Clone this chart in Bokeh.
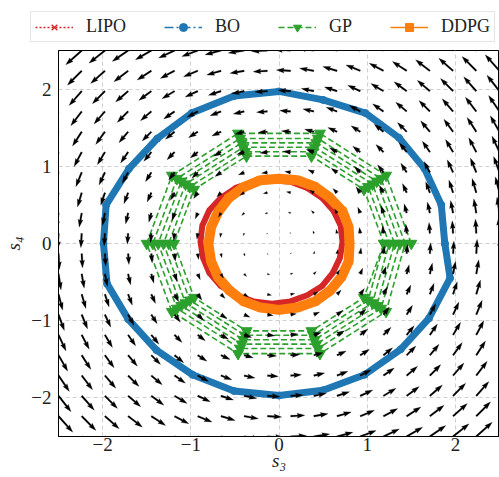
import numpy as np
from bokeh.plotting import figure
from bokeh.layouts import column
from bokeh.models import Legend, LegendItem, FixedTicker
from bokeh.embed import file_html
from bokeh.resources import INLINE

# ---------------- axis / ticks ----------------
x_lim = (-2.5, 2.5)
y_lim = (-2.5, 2.5)
tick_values = [-2, -1, 0, 1, 2]
tick_labels = ["\u22122", "\u22121", "0", "1", "2"]
x_label = "s\u2083"
y_label = "s\u2084"

# ---------------- vector field (s3' = -s4, s4' = s3) ----------------
field_n = 20
field_px_per_speed = 6.4

# ---------------- trajectories ----------------
series_names = ["LIPO", "BO", "GP", "DDPG"]
series_colors = ["#d62728", "#1f77b4", "#2ca02c", "#ff7f0e"]

lipo_x = [0.72, 0.70, 0.62, 0.49, 0.32, 0.13, -0.08, -0.29, -0.49, -0.66, -0.79, -0.87,
          -0.89, -0.86, -0.79, -0.66, -0.48, -0.29, -0.08, 0.13, 0.32, 0.49, 0.61, 0.69, 0.72]
lipo_y = [0.02, 0.23, 0.42, 0.59, 0.72, 0.80, 0.82, 0.80, 0.72, 0.59, 0.43, 0.23,
          0.02, -0.19, -0.38, -0.55, -0.67, -0.75, -0.78, -0.75, -0.67, -0.55, -0.38, -0.19, 0.02]

bo_x = [1.88, 1.84, 1.65, 1.36, 0.98, 0.50, 0.00, -0.51, -0.99, -1.38, -1.70, -1.96,
        -1.99, -1.95, -1.71, -1.39, -0.98, -0.51, 0.00, 0.50, 0.97, 1.38, 1.70, 1.94, 1.88]
bo_y = [0.00, 0.50, 0.97, 1.37, 1.69, 1.86, 1.97, 1.91, 1.69, 1.36, 0.97, 0.50,
        0.00, -0.52, -0.98, -1.38, -1.70, -1.91, -1.97, -1.90, -1.70, -1.37, -0.97, -0.45, 0.00]

gp_x = [1.50, 1.214, 0.464, -0.464, -1.214, -1.50, -1.214, -0.464, 0.464, 1.214,
        1.43, 1.157, 0.442, -0.442, -1.157, -1.43, -1.157, -0.442, 0.442, 1.157,
        1.37, 1.108, 0.423, -0.423, -1.108, -1.37, -1.108, -0.423, 0.423, 1.108,
        1.31, 1.060, 0.405, -0.405, -1.060, -1.31, -1.060, -0.405, 0.405, 1.060,
        1.25, 1.011, 0.386, -0.386, -1.011, -1.25, -1.011, -0.386, 0.386, 1.011,
        1.19, 0.963, 0.368, -0.368, -0.963, -1.19, -0.963, -0.368, 0.368, 0.963, 1.19]
gp_y = [0.0, 0.882, 1.427, 1.427, 0.882, 0.0, -0.882, -1.427, -1.427, -0.882,
        0.0, 0.841, 1.360, 1.360, 0.841, 0.0, -0.841, -1.360, -1.360, -0.841,
        0.0, 0.806, 1.303, 1.303, 0.806, 0.0, -0.806, -1.303, -1.303, -0.806,
        0.0, 0.770, 1.246, 1.246, 0.770, 0.0, -0.770, -1.246, -1.246, -0.770,
        0.0, 0.735, 1.189, 1.189, 0.735, 0.0, -0.735, -1.189, -1.189, -0.735,
        0.0, 0.700, 1.132, 1.132, 0.700, 0.0, -0.700, -1.132, -1.132, -0.700, 0.0]

ddpg_x = [0.80, 0.79, 0.72, 0.57, 0.40, 0.21, 0.00, -0.21, -0.40, -0.57, -0.69, -0.77,
          -0.80, -0.77, -0.69, -0.56, -0.40, -0.21, 0.00, 0.21, 0.41, 0.58, 0.71, 0.79, 0.80]
ddpg_y = [-0.01, 0.21, 0.42, 0.60, 0.74, 0.82, 0.84, 0.82, 0.73, 0.59, 0.41, 0.21,
          -0.01, -0.23, -0.44, -0.61, -0.75, -0.83, -0.86, -0.83, -0.75, -0.61, -0.43, -0.23, -0.01]

# ---------------- sizes ----------------
W, H_TOTAL = 499, 477
LEG_H = 44
H = H_TOTAL - LEG_H
BL, BR, BT, BB = 57, 0, 6, 41
FW, FH = W - BL - BR, H - BT - BB

red, blue, green, orange = series_colors

# ---------------- main figure ----------------
p = figure(width=W, height=H, x_range=x_lim, y_range=y_lim,
           output_backend="svg", toolbar_location=None,
           min_border_left=BL, min_border_right=BR,
           min_border_top=BT, min_border_bottom=BB)
p.frame_align = False
p.outline_line_color = "black"
p.outline_line_width = 1
p.outline_line_alpha = 1

for ax in (p.xaxis[0], p.yaxis[0]):
    ax.ticker = FixedTicker(ticks=tick_values)
    ax.major_label_overrides = dict(zip(tick_values, tick_labels))
    ax.minor_tick_line_color = None
    ax.major_tick_out = 0
    ax.major_tick_in = 0
    ax.axis_line_color = "black"
    ax.major_label_text_font = "Liberation Serif"
    ax.major_label_text_font_size = "19px"
    ax.major_label_text_color = "#222222"
    ax.axis_label_text_font = "Liberation Serif"
    ax.axis_label_text_font_size = "19px"
    ax.axis_label_text_font_style = "italic"
    ax.axis_label_text_color = "#222222"
p.xaxis.axis_label = x_label
p.yaxis.axis_label = y_label
p.xaxis.major_label_standoff = 1
p.xaxis.axis_label_standoff = -4
p.yaxis.major_label_standoff = 7
p.yaxis.axis_label_standoff = 4

for g in (p.xgrid[0], p.ygrid[0]):
    g.ticker = FixedTicker(ticks=tick_values)
    g.grid_line_color = "#cfcfcf"
    g.grid_line_dash = "4 3"
    g.grid_line_width = 1

# LIPO
p.line(lipo_x, lipo_y, line_width=6, color=red, line_join="round")
p.line(lipo_x, lipo_y, line_width=1.5, color=red, line_dash="2 2")
p.scatter(lipo_x, lipo_y, marker="x", size=6, line_color=red, line_width=1.3)

# BO
p.line(bo_x, bo_y, line_width=7, color=blue, line_join="round")
p.line(bo_x, bo_y, line_width=1.5, color=blue, line_dash="9 3 2 3")
p.scatter(bo_x, bo_y, marker="circle", size=7, color=blue)

# GP
p.line(gp_x, gp_y, line_width=1.6, color=green, line_dash="6 3")
p.scatter(gp_x, gp_y, marker="inverted_triangle", size=11, color=green)

# DDPG
p.line(ddpg_x, ddpg_y, line_width=10, color=orange, line_join="round")
p.line(ddpg_x, ddpg_y, line_width=1.5, color=orange)
p.scatter(ddpg_x, ddpg_y, marker="square", size=7, color=orange)

# ---------------- quiver ----------------
g = np.linspace(x_lim[0], x_lim[1], field_n)
GX, GY = np.meshgrid(g, g)
U = -GY
V = GX
sx = FW / (x_lim[1] - x_lim[0])
sy = FH / (y_lim[1] - y_lim[0])
sw, hw, hl, hal = 1.7, 5.0, 7.8, 7.0
qx, qy = [], []
for x0, y0, u, v in zip(GX.ravel(), GY.ravel(), U.ravel(), V.ravel()):
    L = float(np.hypot(u, v)) * field_px_per_speed
    if L <= 0:
        continue
    L0 = max(L, hl)
    pts = np.array([[0, -sw / 2], [L0 - hal, -sw / 2], [L0 - hl, -hw / 2], [L0, 0],
                    [L0 - hl, hw / 2], [L0 - hal, sw / 2], [0, sw / 2]], dtype=float)
    if L < hl:
        pts *= L / hl
    th = np.arctan2(v, u)
    c, s = np.cos(th), np.sin(th)
    px = pts[:, 0] * c - pts[:, 1] * s
    py = pts[:, 0] * s + pts[:, 1] * c
    qx.append(list(x0 + px / sx))
    qy.append(list(y0 + py / sy))
p.patches(qx, qy, fill_color="black", line_color="black", line_width=0.2)

# ---------------- legend strip (own small figure, glyphs out of view) ----------------
lf = figure(width=W, height=LEG_H, x_range=(100, 101), y_range=(100, 101),
            output_backend="svg", toolbar_location=None,
            x_axis_location=None, y_axis_location=None,
            min_border_left=0, min_border_right=0, min_border_top=0, min_border_bottom=0)
lf.frame_align = False
lf.outline_line_color = None
lf.xgrid.visible = False
lf.ygrid.visible = False

l1 = lf.line(lipo_x, lipo_y, line_width=1.5, color=red, line_dash="2 2")
m1 = lf.scatter(lipo_x, lipo_y, marker="x", size=6, line_color=red, line_width=1.3)
l2 = lf.line(bo_x, bo_y, line_width=1.5, color=blue, line_dash="9 3 2 3")
m2 = lf.scatter(bo_x, bo_y, marker="circle", size=7, color=blue)
l3 = lf.line(gp_x, gp_y, line_width=1.5, color=green, line_dash="6 3")
m3 = lf.scatter(gp_x, gp_y, marker="inverted_triangle", size=9, color=green)
l4 = lf.line(ddpg_x, ddpg_y, line_width=1.5, color=orange)
m4 = lf.scatter(ddpg_x, ddpg_y, marker="square", size=6, color=orange)

items = [
    LegendItem(label=series_names[0], renderers=[l1, m1]),
    LegendItem(label=series_names[1], renderers=[l2, m2]),
    LegendItem(label=series_names[2], renderers=[l3, m3]),
    LegendItem(label=series_names[3], renderers=[l4, m4]),
]
legend = Legend(items=items, orientation="horizontal",
                location=(30, 2),
                glyph_width=38, glyph_height=20, label_standoff=13,
                label_width=0, spacing=38, padding=4, margin=0,
                label_text_font="Liberation Serif", label_text_font_size="18px",
                label_text_color="#222222",
                border_line_color="#cccccc", border_line_width=1,
                background_fill_color="white", background_fill_alpha=1.0)
lf.add_layout(legend)

layout = column(lf, p, spacing=0)
open("out.html", "w").write(file_html(layout, INLINE))
